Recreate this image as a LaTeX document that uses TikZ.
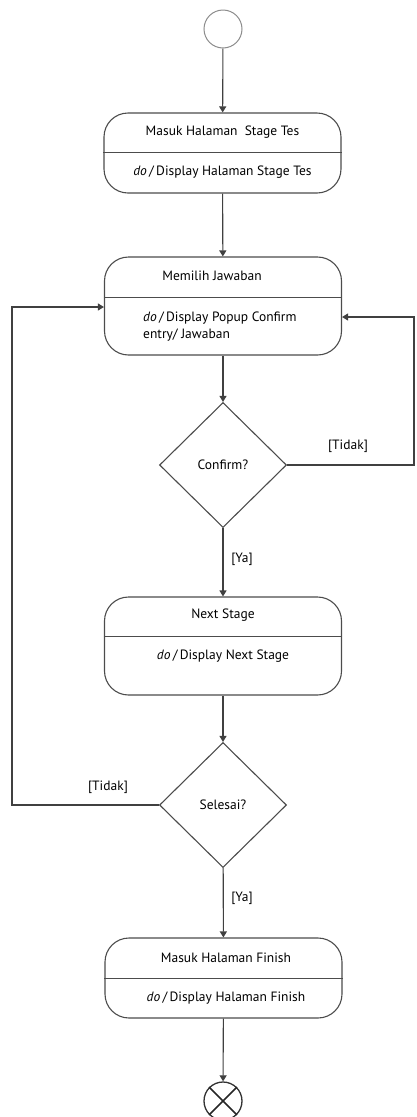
\documentclass[tikz,border=0pt]{standalone}
\usepackage{fontspec}
\setmainfont{PT Sans}
\usetikzlibrary{arrows.meta,shapes.geometric}
\tikzset{
 state/.style={draw=black!70,line width=1.1pt,rounded corners=24pt,minimum width=237pt,minimum height=80pt,inner sep=0pt},
 decision/.style={draw=black!70,line width=1.1pt,diamond,minimum width=127pt,minimum height=125pt,inner sep=0pt},
 flow/.style={draw=black!75,line width=1.1pt,-{Triangle[length=6pt,width=7pt]}},
 guard/.style={inner sep=0pt}
}
\begin{document}
\begin{tikzpicture}[x=1pt,y=-1pt,font=\fontsize{13.5}{17}\selectfont]
 \useasboundingbox (0,0) rectangle (416,1117);
 \node[draw=black!45,line width=1pt,circle,minimum size=38pt,inner sep=0pt] (start) at (223,29) {};
 \node[state] (s1) at (222.5,153) {};
 \draw[black!70,line width=1.1pt] ([yshift=-40pt]s1.north west) -- ([yshift=-40pt]s1.north east);
 \node (s1t) at ([yshift=-20pt]s1.north) {Masuk Halaman\ \ Stage Tes};
 \node (s1d) at ([yshift=-60pt]s1.north) {\textit{do}\,/\,Display Halaman Stage Tes};
 \node[state,minimum height=98pt] (s2) at (223,306) {};
 \draw[black!70,line width=1.1pt] ([yshift=-41pt]s2.north west) -- ([yshift=-41pt]s2.north east);
 \node (s2t) at (212,276) {Memilih Jawaban};
 \node[align=left,anchor=west,inner sep=0pt] (s2d) at (143,327) {\textit{do}\,/\,Display Popup Confirm\\entry/ Jawaban};
 \node[decision] (d1) at (223,465) {Confirm?};
 \node[state,minimum height=98pt] (s3) at (223,646) {};
 \draw[black!70,line width=1.1pt] ([yshift=-40pt]s3.north west) -- ([yshift=-40pt]s3.north east);
 \node (s3t) at ([yshift=-19pt]s3.north) {Next Stage};
 \node (s3d) at ([yshift=-60pt]s3.north) {\textit{do}\,/\,Display Next Stage};
 \node[decision] (d2) at (223,805) {Selesai?};
 \node[state] (s4) at (223.5,978) {};
 \draw[black!70,line width=1.1pt] ([yshift=-41pt]s4.north west) -- ([yshift=-41pt]s4.north east);
 \node (s4t) at (226,958) {Masuk Halaman Finish};
 \node (s4d) at (226,998) {\textit{do}\,/\,Display Halaman Finish};
 \node[draw=black!80,line width=1.3pt,circle,minimum size=38pt,inner sep=0pt] (finish) at (223,1101) {};
 \draw[black!85,line width=1.6pt] (finish.north west) -- (finish.south east) (finish.north east) -- (finish.south west);
 \coordinate (rt) at (414,317);
 \coordinate (lt) at (12,307);
 \draw[flow] (start) -- (s1);
 \draw[flow] (s1) -- (s2);
 \draw[flow] (s2) -- (d1);
 \draw[flow] (d1.east) -| (rt) -- (s2.east |- rt);
 \draw[flow] (d1) -- (s3);
 \draw[flow] (s3) -- (d2);
 \draw[flow] (d2.west) -| (lt) -- (s2.west |- lt);
 \draw[flow] (d2) -- (s4);
 \draw[flow] (s4) -- (finish);
 \node[guard] (g1) at (348,446) {[Tidak]};
 \node[guard] (g2) at (242,559) {[Ya]};
 \node[guard] (g3) at (108,787) {[Tidak]};
 \node[guard] (g4) at (242,898) {[Ya]};
\end{tikzpicture}
\end{document}
